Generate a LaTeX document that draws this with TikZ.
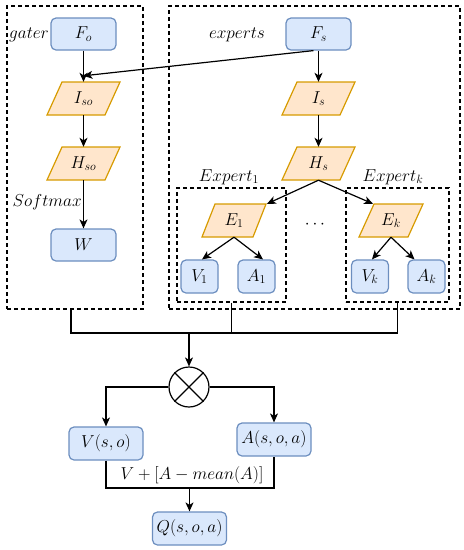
\documentclass[tikz,border=0pt]{standalone}
\usetikzlibrary{calc,arrows.meta}
\definecolor{bfill}{HTML}{DAE8FC}
\definecolor{bline}{HTML}{6C8EBF}
\definecolor{ofill}{HTML}{FFE6CC}
\definecolor{oline}{HTML}{D79B00}
\newcommand\paranode[6]{%
  \filldraw[parabox] (#2-#4/2, #3+16.5) -- (#2+#4/2-#5, #3+16.5) -- (#2+#4/2, #3-16.5) -- (#2-#4/2+#5, #3-16.5) -- cycle;
  \node[paratxt, minimum width=#4] (#1) at (#2,#3) {#6};}
\begin{document}
\begin{tikzpicture}[x=1pt,y=-1pt, font=\fontsize{17}{20}\selectfont,
 bluebox/.style={draw=bline, fill=bfill, rounded corners=5pt, line width=1.2pt, minimum height=32, inner sep=0pt},
 parabox/.style={draw=oline, fill=ofill, line width=1.2pt},
 paratxt/.style={minimum height=33, inner sep=0pt},
 conn/.style={line width=1.2pt, -{Stealth[length=9pt,width=8pt,inset=2.5pt]}},
 wire/.style={line width=1.2pt},
 group/.style={draw, dash pattern=on 4pt off 3pt, line width=1.1pt, inner sep=0pt},
 lbl/.style={inner sep=0pt}]
\useasboundingbox (0,0) rectangle (464,550);
% groups
\node[group, minimum width=136, minimum height=303] (gater) at (75,157.5) {};
\node[group, minimum width=291, minimum height=303] (experts) at (314.5,157.5) {};
\node[group, minimum width=109, minimum height=114] (ex1) at (231.5,245) {};
\node[group, minimum width=103, minimum height=114] (exk) at (397.5,245) {};
% labels
\node[lbl, anchor=west] (lgater) at (9,35) {$gater$};
\node[lbl] (lexperts) at (237,35) {$experts$};
\node[lbl, anchor=east] (lsoft) at (82,202) {$Softmax$};
\node[lbl] (lex1) at (229,177) {$Expert_1$};
\node[lbl] (lexk) at (393,177) {$Expert_k$};
\node[lbl] (dots) at (315,225) {$\cdots$};
% gater
\node[bluebox, minimum width=65] (Fo) at (83.5,34) {$F_o$};
\paranode{Iso}{83.5}{98.5}{73}{15}{$I_{so}$}
\paranode{Hso}{83.5}{163.5}{73}{15}{$H_{so}$}
\node[bluebox, minimum width=65] (W) at (83.5,245) {$W$};
% experts
\node[bluebox, minimum width=65] (Fs) at (318.5,34) {$F_s$};
\paranode{Is}{318.5}{98.5}{73}{15}{$I_s$}
\paranode{Hs}{318.5}{163.5}{73}{15}{$H_s$}
\paranode{E1}{234}{220.5}{64}{13}{$E_1$}
\paranode{Ek}{391}{220.5}{64}{15}{$E_k$}
\node[bluebox, minimum width=37, minimum height=33] (V1) at (199.5,276.5) {$V_1$};
\node[bluebox, minimum width=37, minimum height=33] (A1) at (256.5,276.5) {$A_1$};
\node[bluebox, minimum width=37, minimum height=33] (Vk) at (370,276.5) {$V_k$};
\node[bluebox, minimum width=37, minimum height=33] (Ak) at (426.5,276.5) {$A_k$};
% combination
\node[circle, draw, line width=1.2pt, minimum size=40, inner sep=0pt] (mul) at (189,387) {};
\draw[wire] (mul.45) -- (mul.225) (mul.135) -- (mul.315);
\node[bluebox, minimum width=74, minimum height=33] (V) at (106,443.5) {$V(s,o)$};
\node[bluebox, minimum width=74, minimum height=33] (A) at (274,439.5) {$A(s,o,a)$};
\node[bluebox, minimum width=74, minimum height=33] (Q) at (189.5,528.5) {$Q(s,o,a)$};
\node[lbl] (lq) at (192,475) {$V+[A-mean(A)]$};
% connectors
\draw[conn] (Fo.south) -- (Iso.north);
\draw[conn] ($(Fs.south)+(-5,0)$) -- ($(Iso.north)+(0,-6)$);
\draw[conn] (Iso.south) -- (Hso.north);
\draw[conn] (Hso.south) -- (W.north);
\draw[conn] (Fs.south) -- (Is.north);
\draw[conn] (Is.south) -- (Hs.north);
\draw[conn] (Hs.south) -- ($(E1.north)+(33,0)$);
\draw[conn] (Hs.south) -- ($(Ek.north)+(-18,0)$);
\draw[conn] (E1.south) -- ($(V1.north)+(2.5,0)$);
\draw[conn] (E1.south) -- ($(A1.north)+(6.5,0)$);
\draw[conn] (Ek.south) -- ($(Vk.north)+(2,0)$);
\draw[conn] (Ek.south) -- ($(Ak.north)+(-12,0)$);
\coordinate (j) at (189,333);
\draw[wire] ($(gater.south)+(-4,0)$) |- (j);
\draw[wire] (ex1.south) |- (j);
\draw[wire] (exk.south) |- (j);
\draw[conn] (j) -- (mul.north);
\draw[conn] (mul.west) -| (V.north);
\draw[conn] (mul.east) -| (A.north);
\coordinate (s) at (189.5,488);
\draw[wire] (V.south) |- (s) -| (A.south);
\draw[conn] (s) -- (Q.north);
\end{tikzpicture}
\end{document}
